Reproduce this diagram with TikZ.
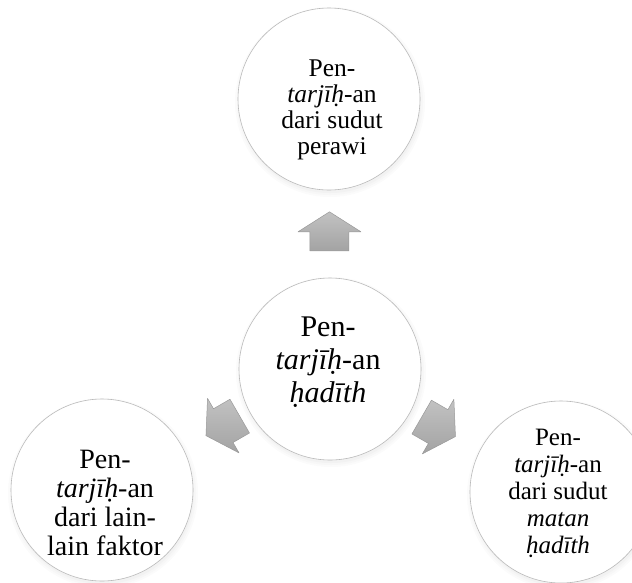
\documentclass[tikz,border=0pt]{standalone}
\usepackage{fontspec}
\setmainfont{Liberation Serif}
\usetikzlibrary{calc}

\pgfdeclareradialshading{bubbleshade}{\pgfpointorigin}{color(0bp)=(white);color(28bp)=(white);color(42bp)=(gray!9);color(47bp)=(gray!24);color(50bp)=(gray!50)}

\tikzset{
  bubble/.style={circle,minimum size=182pt,inner sep=0pt,shade,shading=bubbleshade,draw=gray!55,line width=0.6pt},
  label text/.style={align=center,inner sep=0pt},
  blockarrow/.style={top color=gray!48,bottom color=gray!72,draw=gray!80,line width=0.5pt,line join=round}
}

\begin{document}
\begin{tikzpicture}[x=1pt,y=1pt]
    \useasboundingbox (0,0) rectangle (632,-582);
    % shadows
    \foreach \c in {(329,-99),(330,-369),(102,-490),(561,-492)}
        \foreach \i/\g in {5/3,3/6,1/10}
            \fill[gray!\g] \c ++(1,-3) circle (90+\i);
    % bubbles
    \node[bubble] (perawi) at (329,-99) {};
    \node[bubble] (hub) at (330,-369) {};
    \node[bubble] (lain) at (102,-490) {};
    \node[bubble] (matan) at (561,-492) {};
    % texts
    \node[label text,font=\fontsize{25.5}{26}\selectfont] (perawiText) at (332,-110)
        {Pen-\\\textit{tarjīḥ}-an\\dari sudut\\perawi};
    \node[label text,font=\fontsize{30}{33}\selectfont] (hubText) at (328,-362)
        {Pen-\\\textit{tarjīḥ}-an\\\textit{ḥadīth}};
    \node[label text,font=\fontsize{28}{29}\selectfont] (lainText) at (105,-503)
        {Pen-\\\textit{tarjīḥ}-an\\dari lain-\\lain faktor};
    \node[label text,font=\fontsize{25}{27}\selectfont] (matanText) at (558,-493)
        {Pen-\\\textit{tarjīḥ}-an\\dari sudut\\\textit{matan}\\\textit{ḥadīth}};
    % arrows
    \foreach \target/\rot/\pos in {perawi/0/0.51,lain/120/0.47,matan/-120/0.47}
        \shadedraw[blockarrow,shift={($(hub)!\pos!(\target)$)},rotate=\rot]
            (0,19.5) -- (31.5,-0.5) -- (19.5,-0.5) -- (19.5,-19.5)
            -- (-19.5,-19.5) -- (-19.5,-0.5) -- (-31.5,-0.5) -- cycle;
\end{tikzpicture}
\end{document}
